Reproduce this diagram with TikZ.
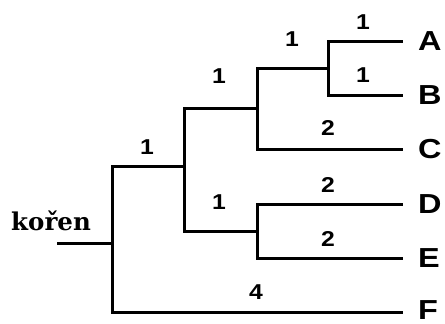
\documentclass[tikz,border=0pt]{standalone}
\usepackage{fontspec}
\setmainfont{Liberation Sans}
\newfontfamily\korenfont{DejaVu Serif}
\begin{document}
\begin{tikzpicture}[x=1pt,y=-1pt,
  branch/.style={line width=3pt, line join=miter},
  leaf/.style={anchor=west, inner sep=0pt, font=\fontsize{27.5}{27.5}\selectfont\bfseries},
  blen/.style={inner sep=0pt, font=\fontsize{21.5}{21.5}\selectfont\bfseries}]
\useasboundingbox[fill=white] (0,0) rectangle (445,324);
% leaves
\node[leaf] (A) at (418,41) {\scalebox{1.18}[1]{A}};
\node[leaf] (B) at (418,95) {\scalebox{1.18}[1]{B}};
\node[leaf] (C) at (418,149) {\scalebox{1.18}[1]{C}};
\node[leaf] (D) at (418,204) {\scalebox{1.18}[1]{D}};
\node[leaf] (E) at (418,258) {\scalebox{1.18}[1]{E}};
\node[leaf] (F) at (418,310) {\scalebox{1.18}[1]{F}};
% internal vertices
\coordinate (stub) at (57,243);
\coordinate (root) at (112,243);
\coordinate (nABCDE) at (184,166);
\coordinate (nABC) at (257,108);
\coordinate (nAB) at (328,68);
\coordinate (nDE) at (257,231);
\node[anchor=base, inner sep=0pt, font=\korenfont\fontsize{24.5}{24.5}\selectfont\bfseries] (koren) at (51,230) {kořen};
% branches
\draw[branch] (stub) -- (root);
\draw[branch] (root) |- (nABCDE);
\draw[branch] (root) |- ([xshift=-15pt,yshift=-2pt]F.west);
\draw[branch] (nABCDE) |- (nABC);
\draw[branch] (nABCDE) |- (nDE);
\draw[branch] (nABC) |- (nAB);
\draw[branch] (nABC) |- ([xshift=-15pt]C.west);
\draw[branch] (nAB) |- ([xshift=-15pt]A.west);
\draw[branch] (nAB) |- ([xshift=-15pt]B.west);
\draw[branch] (nDE) |- ([xshift=-15pt]D.west);
\draw[branch] (nDE) |- ([xshift=-15pt]E.west);
% branch lengths
\node[blen] (lA) at (363,22) {\scalebox{1.15}[1]{1}};
\node[blen] (lB) at (363,75) {\scalebox{1.15}[1]{1}};
\node[blen] (lAB) at (292,39) {\scalebox{1.15}[1]{1}};
\node[blen] (lABC) at (219,76) {\scalebox{1.15}[1]{1}};
\node[blen] (lC) at (328,128) {\scalebox{1.15}[1]{2}};
\node[blen] (lABCDE) at (147,147) {\scalebox{1.15}[1]{1}};
\node[blen] (lD) at (328,185) {\scalebox{1.15}[1]{2}};
\node[blen] (lDE) at (219,202) {\scalebox{1.15}[1]{1}};
\node[blen] (lE) at (328,239) {\scalebox{1.15}[1]{2}};
\node[blen] (lF) at (256,292) {\scalebox{1.15}[1]{4}};
\end{tikzpicture}
\end{document}
